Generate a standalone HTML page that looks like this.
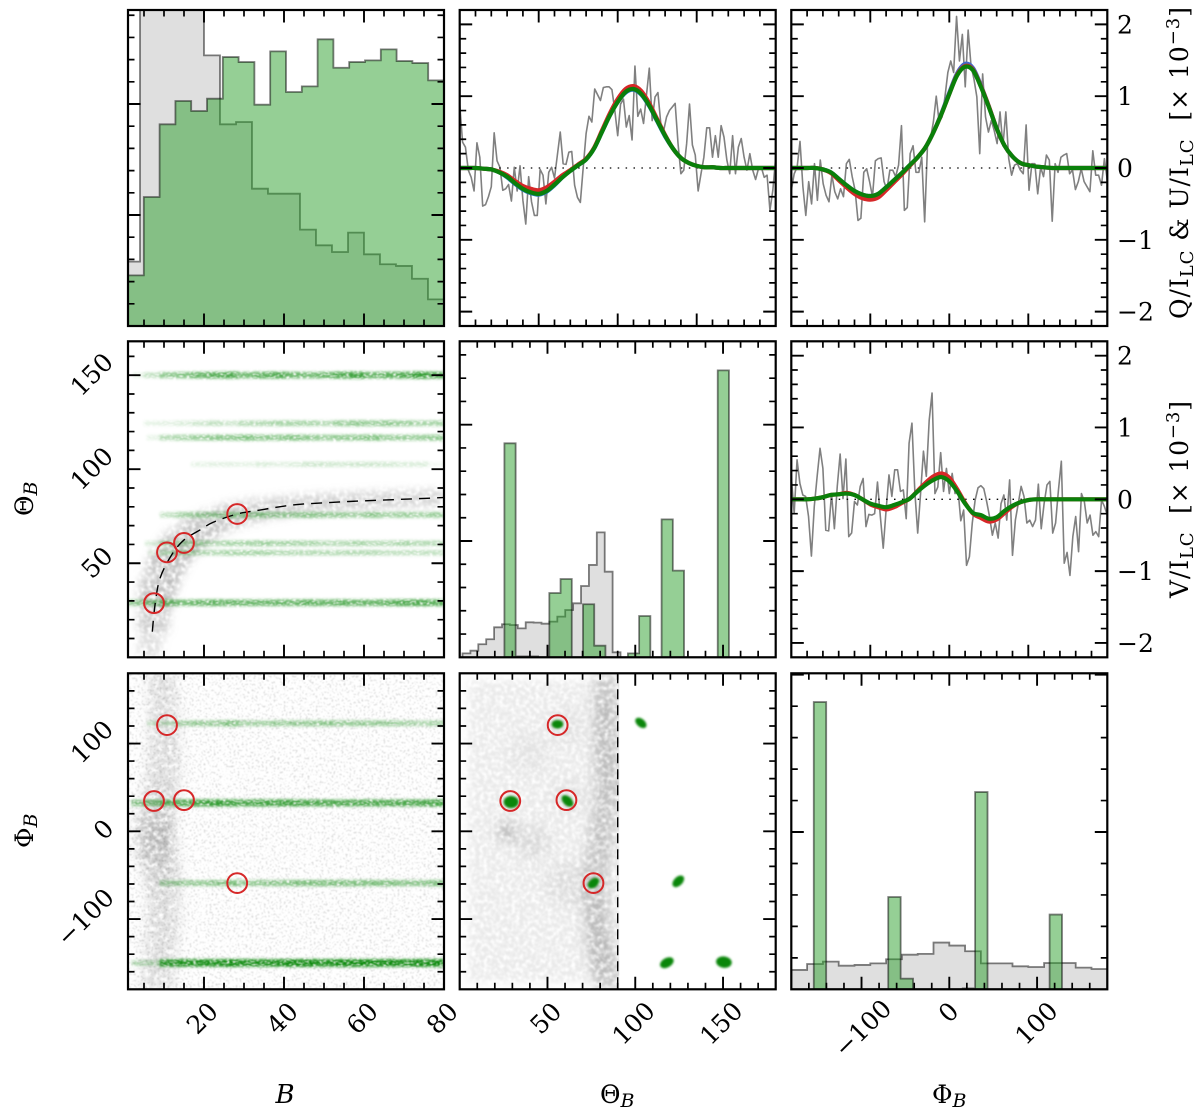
<!DOCTYPE html>
<html lang="en">
<head>
<meta charset="utf-8">
<title>Inversion corner plot</title>
<style>
html,body{margin:0;padding:0;background:#fff;}
svg{display:block;}
text{font-family:"DejaVu Serif","Liberation Serif",serif;fill:#000;}
</style>
</head>
<body>
<svg id="chart" xmlns="http://www.w3.org/2000/svg" width="1200" height="1112" viewBox="0 0 1200 1112">
<defs>
  <clipPath id="c00"><rect x="128" y="10" width="316" height="316"/></clipPath>
  <clipPath id="c01"><rect x="459.7" y="10" width="316" height="316"/></clipPath>
  <clipPath id="c02"><rect x="791.3" y="10" width="316" height="316"/></clipPath>
  <clipPath id="c10"><rect x="128" y="341.3" width="316" height="316"/></clipPath>
  <clipPath id="c11"><rect x="459.7" y="341.3" width="316" height="316"/></clipPath>
  <clipPath id="c12"><rect x="791.3" y="341.3" width="316" height="316"/></clipPath>
  <clipPath id="c20"><rect x="128" y="673.3" width="316" height="316"/></clipPath>
  <clipPath id="c21"><rect x="459.7" y="673.3" width="316" height="316"/></clipPath>
  <clipPath id="c21half"><rect x="459.7" y="673.3" width="159.5" height="316"/></clipPath>
  <clipPath id="c22"><rect x="791.3" y="673.3" width="316" height="316"/></clipPath>
  <filter id="mottle" filterUnits="userSpaceOnUse" x="0" y="0" width="1200" height="1112" color-interpolation-filters="sRGB">
    <feGaussianBlur in="SourceGraphic" stdDeviation="4.5" result="b"/>
    <feTurbulence type="fractalNoise" baseFrequency="0.25" numOctaves="2" seed="3" result="n"/>
    <feColorMatrix in="n" type="matrix" values="0 0 0 0 0 0 0 0 0 0 0 0 0 0 0 2.8 0 0 0 -0.7" result="m"/>
    <feComposite in="b" in2="m" operator="in"/>
    <feGaussianBlur stdDeviation="0.8"/>
  </filter>
  <filter id="mottleWide" filterUnits="userSpaceOnUse" x="0" y="0" width="1200" height="1112" color-interpolation-filters="sRGB">
    <feGaussianBlur in="SourceGraphic" stdDeviation="6" result="b"/>
    <feTurbulence type="fractalNoise" baseFrequency="0.22" numOctaves="2" seed="11" result="n"/>
    <feColorMatrix in="n" type="matrix" values="0 0 0 0 0 0 0 0 0 0 0 0 0 0 0 2.8 0 0 0 -0.7" result="m"/>
    <feComposite in="b" in2="m" operator="in"/>
    <feGaussianBlur stdDeviation="0.8"/>
  </filter>
  <filter id="speck" filterUnits="userSpaceOnUse" x="0" y="0" width="1200" height="1112" color-interpolation-filters="sRGB">
    <feTurbulence type="fractalNoise" baseFrequency="0.5" numOctaves="2" seed="8" result="n"/>
    <feColorMatrix in="n" type="matrix" values="0 0 0 0 0 0 0 0 0 0 0 0 0 0 0 9 0 0 0 -5.2" result="m"/>
    <feComposite in="SourceGraphic" in2="m" operator="in"/>
    <feGaussianBlur stdDeviation="0.6"/>
  </filter>
  <filter id="streak" filterUnits="userSpaceOnUse" x="0" y="0" width="1200" height="1112" color-interpolation-filters="sRGB">
    <feGaussianBlur in="SourceGraphic" stdDeviation="1.3" result="b"/>
    <feTurbulence type="fractalNoise" baseFrequency="0.3 0.7" numOctaves="2" seed="5" result="n"/>
    <feColorMatrix in="n" type="matrix" values="0 0 0 0 0 0 0 0 0 0 0 0 0 0 0 3.4 0 0 0 -0.8" result="m"/>
    <feComposite in="b" in2="m" operator="in"/>
    <feGaussianBlur stdDeviation="0.5"/>
  </filter>
  <filter id="soft" filterUnits="userSpaceOnUse" x="0" y="0" width="1200" height="1112" color-interpolation-filters="sRGB">
    <feGaussianBlur stdDeviation="1.1"/>
  </filter>
</defs>

<g id="plots"></g>
<g id="frames"></g>
<g id="labels"></g>

<g>
  <text transform="translate(1188,319) rotate(-90)" font-size="25" textLength="312" xml:space="preserve">Q/I<tspan font-size="18" dy="5">LC</tspan><tspan dy="-5"> &amp; U/I</tspan><tspan font-size="18" dy="5">LC</tspan><tspan dy="-5">  [× 10</tspan><tspan font-size="18" dy="-9">−3</tspan><tspan dy="9">]</tspan></text>
  <text transform="translate(1188,598) rotate(-90)" font-size="25" textLength="197" xml:space="preserve">V/I<tspan font-size="18" dy="5">LC</tspan><tspan dy="-5">  [× 10</tspan><tspan font-size="18" dy="-9">−3</tspan><tspan dy="9">]</tspan></text>
  <text transform="translate(33,516) rotate(-90)" font-size="25">Θ<tspan font-size="19" font-style="italic" dy="4">B</tspan></text>
  <text transform="translate(33,848) rotate(-90)" font-size="25">Φ<tspan font-size="19" font-style="italic" dy="4">B</tspan></text>
  <text x="285" y="1103" font-size="26" font-style="italic" text-anchor="middle">B</text>
  <text x="600" y="1103" font-size="25">Θ<tspan font-size="19" font-style="italic" dy="4">B</tspan></text>
  <text x="932" y="1103" font-size="25">Φ<tspan font-size="19" font-style="italic" dy="4">B</tspan></text>
</g>
</svg>

<script>
// ---------- histogram data ----------
const bGrayStart = 0;
const bGrayWidth = 4;
const bGrayCounts = [580,3600,3300,3000,2900,2438,1817,1838,1237,1192,1192,868,727,667,841,646,556,541,426,240];
const bGreenStart = 1;
const bGreenWidth = 3.95;
const bGreenCounts = [456,1162,1817,2027,1937,2048,2423,2378,1994,2474,2108,2159,2583,2327,2378,2393,2492,2387,2369,2213];

const thetaGrayStart = 1.6;
const thetaGrayWidth = 4.5;
const thetaGrayCounts = [34,57,112,155,258,284,278,249,301,298,289,307,350,407,464,613,794,1074,736,43];
const thetaGreenStart = 25.47;
const thetaGreenWidth = 6.395;
const thetaGreenCounts = [1840,8,8,0,553,673,0,456,100,0,0,34,355,0,1186,745,0,0,0,2467];

const phiGrayStart = -180;
const phiGrayWidth = 18;
const phiGrayCounts = [123,161,176,150,155,165,191,220,225,297,278,242,165,165,146,142,167,167,138,129];
const phiGreenStart = -154.4;
const phiGreenWidth = 14.14;
const phiGreenCounts = [1826,0,0,0,0,0,587,68,0,0,0,0,6,1254,0,0,0,0,0,475];

// ---------- Stokes profile data ----------
const qObserved = [.89,.36,.29,-.03,-.13,-.32,.35,.15,-.53,-.51,-.40,-.26,.49,.10,.01,-.31,-.29,-.23,-.46,.01,-.32,.03,-.45,-.78,-.12,-.47,-.66,-.66,-.02,-.10,-.50,-.06,.01,-.14,.18,.50,.06,.05,.22,.23,-.24,-.41,-.48,.01,.48,.72,.64,1.10,1.02,.94,1.12,1.13,1.13,1.09,.80,.45,.89,.96,.57,.73,.39,1.42,.72,.82,.62,1.01,1.39,.66,.99,1.05,.62,.52,.71,.80,.85,.90,.34,-.08,-.03,.34,.89,.32,.18,-.32,-.08,.15,.56,.56,.15,.45,.15,.59,.43,.11,-.08,.45,-.08,.29,.41,.15,-.03,.20,-.03,-.16,-.01,.01,-.13,-.10,-.59,-.31,.15];
const uObserved = [-.31,-.08,.01,.37,-.26,-.66,-.19,-.50,.06,-.45,.11,-.22,-.38,-.47,-.10,-.33,-.43,-.29,-.40,.06,.12,-.12,-.31,-.73,-.70,-.06,-.01,-.19,-.40,.10,.13,.14,-.19,-.30,-.03,-.03,-.12,.04,.59,-.59,-.55,.20,.31,-.06,-.06,.15,-.75,.34,.41,.64,1.0,.64,.71,.99,1.33,1.49,1.33,2.11,1.49,1.86,1.13,1.92,1.42,1.24,.99,.20,1.31,.71,.50,.66,.52,.34,.78,.31,.78,.13,-.10,.04,.06,-.03,-.08,.60,-.31,.06,.06,-.36,.01,-.12,.18,.11,-.74,.06,-.06,.15,.18,.20,-.08,-.03,-.30,-.19,-.01,-.19,-.26,-.33,.24,-.10,-.10,-.24,.13,-.17];
const vObserved = [.32,-.20,.55,.22,.06,.04,-.24,-.79,-.10,.32,.71,.43,-.43,-.44,.08,-.41,.18,.63,.01,.56,-.52,-.47,-.03,-.08,.18,.29,-.38,-.21,-.22,-.20,.24,-.24,-.68,-.15,.34,.04,.41,.41,.11,.13,-.27,.78,1.06,.11,-.47,.08,.67,.32,1.10,1.48,.08,.17,.65,.11,.43,.08,.36,.08,.15,-.30,-.15,-.92,-.80,-.33,-.01,.16,.19,.15,-.03,-.24,-.50,-.33,-.54,-.06,.06,-.29,.27,-.78,-.29,-.06,.18,.04,-.33,-.29,-.38,-.29,.21,-.41,-.06,.20,.25,-.47,-.33,.13,.53,-.89,-.74,-1.06,-.52,-.24,-.73,.08,-.03,-.33,-.22,-.50,-.45,-.52,-.01,-.10,-.22];

const qFitGreen = [0,0,0,-.01,-.02,-.06,-.12,-.21,-.29,-.34,-.36,-.32,-.23,-.13,-.04,.04,.12,.27,.50,.73,.92,1.06,1.10,1.03,.87,.66,.45,.27,.14,.07,.03,.01,.01,0,0,0,0,0,0,0,0];
const qFitRed = [0,0,0,-.01,-.02,-.05,-.10,-.18,-.25,-.29,-.31,-.27,-.19,-.10,-.03,.05,.13,.28,.52,.76,.96,1.10,1.14,1.07,.90,.68,.46,.27,.14,.07,.03,.01,.01,0,0,0,0,0,0,0,0];
const qFitBlue = [0,0,0,-.01,-.02,-.06,-.13,-.22,-.30,-.35,-.37,-.33,-.24,-.13,-.04,.04,.12,.27,.50,.73,.92,1.05,1.09,1.02,.86,.65,.44,.27,.14,.07,.03,.01,.01,0,0,0,0,0,0,0,0];
const uFitGreen = [0,0,0,0,-.02,-.06,-.15,-.24,-.32,-.37,-.39,-.36,-.27,-.17,-.07,.04,.15,.29,.50,.75,1.03,1.29,1.41,1.36,1.13,.85,.55,.31,.16,.07,.04,.02,.01,0,0,0,0,0,0,0,0];
const uFitRed = [0,0,0,0,-.02,-.07,-.17,-.27,-.36,-.42,-.44,-.41,-.31,-.20,-.09,.03,.15,.29,.50,.75,1.03,1.30,1.42,1.37,1.14,.86,.55,.31,.16,.07,.04,.02,.01,0,0,0,0,0,0,0,0];
const uFitBlue = [0,0,0,0,-.02,-.06,-.15,-.24,-.32,-.37,-.39,-.36,-.27,-.17,-.07,.04,.15,.29,.50,.76,1.05,1.32,1.45,1.39,1.15,.86,.55,.31,.16,.07,.04,.02,.01,0,0,0,0,0,0,0,0];
const vFitGreen = [0,0,0,.01,.03,.06,.07,.08,.06,0,-.06,-.09,-.11,-.08,-.04,.01,.11,.20,.27,.31,.25,.11,-.06,-.19,-.22,-.27,-.25,-.16,-.09,-.04,-.01,0,0,0,0,0,0,0,0,0,0];
const vFitRed = [0,0,0,.01,.03,.06,.07,.09,.06,0,-.07,-.11,-.14,-.11,-.05,.01,.12,.23,.32,.36,.30,.14,-.05,-.20,-.26,-.31,-.28,-.19,-.10,-.04,-.01,0,0,0,0,0,0,0,0,0,0];

// ---------- scatter data ----------
const solutionB = [7.5,10.75,15,28.3];
const solutionTheta = [28.8,55.8,60.8,76.2];
const solutionPhi = [34.5,121,35.5,-59];

const curveB = [7.08,7.75,9,11.9,15,19,22.3,28.3,34,42.3,50.7,59,67.3,79.8];
const curveTheta = [13.6,27.8,42,54.4,62.4,67.7,71.8,76.2,78.3,81,82.2,83.1,83.8,84.9];

const cloudB = [6,7.08,7.75,9,11.9,15,19,22.3,28.3,34,42.3,50.7,59,67.3,79.8];
const cloudTheta = [0,13.6,27.8,42,54.4,62.4,67.7,71.8,76.2,78.3,81,82.2,83.1,83.8,84.9];
const cloudDensity = [.13,.24,.34,.34,.34,.34,.32,.32,.30,.28,.28,.28,.28,.26,.24];
const cloudSpread = [20,28,36,38,38,36,32,28,26,22,19,18,18,18,16];

const thetaBandValues = [150,124.4,116.8,102.6,75.7,60.6,55.6,29];
const thetaBandStartB = [2.3,4.7,5.7,16.5,9,5.25,6,1];
const thetaBandDensity = [
  [.10,.25,.45,.50,.60,.65,.70,.55,.65,.70,.60,.55,.60,.70,.75,.60,.65,.70,.80,.70],
  [0,.10,.12,.15,.20,.25,.20,.30,.30,.35,.35,.35,.30,.40,.45,.40,.45,.40,.35,.35],
  [0,.10,.30,.35,.40,.45,.45,.50,.45,.45,.50,.45,.40,.45,.45,.50,.40,.40,.40,.45],
  [0,0,0,.02,.10,.12,.12,.10,.15,.12,.15,.20,.20,.18,.20,.20,.18,.15,.15,.05],
  [0,0,.25,.35,.40,.40,.45,.40,.45,.40,.40,.45,.40,.40,.35,.45,.35,.40,.35,.40],
  [0,.15,.30,.35,.35,.30,.35,.35,.40,.35,.35,.35,.30,.30,.35,.30,.30,.35,.30,.30],
  [0,.10,.30,.35,.30,.30,.35,.35,.35,.30,.30,.30,.30,.30,.30,.30,.25,.25,.25,.25],
  [.45,.50,.60,.55,.60,.65,.60,.60,.60,.60,.60,.65,.60,.65,.60,.60,.65,.70,.70,.65]
];
const phiBandValues = [123,32.3,-59,-150];
const phiBandStartB = [5.8,1.9,8.5,2];
const phiBandDensity = [
  [0,.20,.25,.35,.40,.40,.50,.35,.35,.40,.40,.40,.45,.40,.40,.40,.40,.35,.30,.35],
  [.50,.55,.65,.70,.75,.80,.75,.70,.75,.75,.75,.70,.70,.70,.70,.70,.70,.70,.70,.75],
  [0,0,.35,.40,.40,.45,.50,.40,.45,.45,.50,.50,.50,.50,.50,.50,.50,.45,.45,.50],
  [.30,.30,.85,.90,.90,.90,.95,.90,.90,.90,.95,.95,.90,.95,.95,.95,.95,.90,.95,.95]
];

const stripPhi = [180,140,100,60,20,-5,-30,-60,-100,-140,-180];
const stripB = [9,10,10,10,8,7.5,8.5,10,10,9,8];
const stripDensity = [.20,.20,.20,.20,.28,.48,.34,.24,.20,.20,.20];
const stripSpread = [7,7,8,8,9,9,9,8,8,8,8];

const arcPhi = [180,150,110,70,35,0,-30,-60,-100,-130,-155,-180];
const arcTheta = [84,83,83,84,84,81,79,77,78,79,83,84];
const arcDensity = [.26,.30,.34,.32,.30,.30,.28,.30,.34,.36,.38,.26];
const arcSpread = [13,13,13,13,13,13,13,13,13,13,13,13];

const patchTheta = [27,42,62,60,40,62];
const patchPhi = [0,-12,-60,120,90,40];
const patchDensity = [.32,.12,.10,.08,.06,.08];
const patchSpread = [6,10,13,10,12,10];

const blobTheta = [55.7,29.3,61.4,76.2,103.2,124.5,118,150.5];
const blobPhi = [122,33.4,34.5,-59,123.5,-57,-149.7,-149];
const blobThetaSpread = [3.3,4.3,4,3.7,3.7,4,4.2,4.5];
const blobPhiSpread = [5,7,5,5,4.6,5,5.4,6.5];
const blobTilt = [0,0,45,-40,40,-45,-30,8];

// ---------- tick arrays ----------
const bMajor = [20,40,60,80];
const bLabels = ['20','40','60','80'];
const thetaMajorX = [50,100,150];
const thetaLabels = ['50','100','150'];
const phiMajorX = [-100,0,100];
const phiLabels = ['−100','0','100'];
const stokesMajor = [-2,-1,0,1,2];
const stokesLabels = ['−2','−1','0','1','2'];
const countMajor = [1000,2000];
const lambdaMajor = [-100,0,100];

// ---------- scales ----------
const NS = 'http://www.w3.org/2000/svg';
const linear = (d0,d1,r0,r1) => v => r0 + (v-d0)*(r1-r0)/(d1-d0);
const xB = linear(1,80,128,444);
const xTheta = linear(0,180,459.7,775.7);
const xPhi = linear(-180,180,791.3,1107.3);
const xLam2 = linear(-200,200,459.7,775.7);
const xLam3 = linear(-200,200,791.3,1107.3);
const yStokes1 = linear(-2.2,2.2,326,10);
const yStokes2 = linear(-2.2,2.2,657.3,341.3);
const yTheta = linear(0,168,657.3,341.3);
const yPhi = linear(-180,180,989.3,673.3);
const yCount1 = linear(0,2847,326,10);
const yCount2 = linear(0,2717,657.3,341.3);
const yCount3 = linear(0,2009,989.3,673.3);

const plots = document.getElementById('plots');
const frames = document.getElementById('frames');
const labels = document.getElementById('labels');

function mk(tag,parent,attrs){
  const el = document.createElementNS(NS,tag);
  for(const k in attrs){ el.setAttribute(k,attrs[k]); }
  parent.appendChild(el);
  return el;
}
function seq(a,b,s){
  const out=[];
  for(let i=0;a+i*s<=b+1e-9;i++){ out.push(a+i*s); }
  return out;
}
function smoothPath(pts){
  let d = 'M'+pts[0][0].toFixed(2)+' '+pts[0][1].toFixed(2);
  for(let i=0;i<pts.length-1;i++){
    const p0 = pts[Math.max(0,i-1)], p1 = pts[i], p2 = pts[i+1], p3 = pts[Math.min(pts.length-1,i+2)];
    const c1x = p1[0]+(p2[0]-p0[0])/6, c1y = p1[1]+(p2[1]-p0[1])/6;
    const c2x = p2[0]-(p3[0]-p1[0])/6, c2y = p2[1]-(p3[1]-p1[1])/6;
    d += 'C'+c1x.toFixed(2)+' '+c1y.toFixed(2)+' '+c2x.toFixed(2)+' '+c2y.toFixed(2)+' '+p2[0].toFixed(2)+' '+p2[1].toFixed(2);
  }
  return d;
}

function panel(clip,name){
  const g = mk('g',plots,{'clip-path':'url(#'+clip+')'});
  
  
  return g;
}

function hist(parent,start,width,values,xs,ys,fill,alpha,name){
  let d = 'M'+xs(start)+' '+ys(0);
  values.forEach((v,i)=>{
    d += 'L'+xs(start+i*width)+' '+ys(v)+'L'+xs(start+(i+1)*width)+' '+ys(v);
  });
  d += 'L'+xs(start+values.length*width)+' '+ys(0)+'Z';
  const el = mk('path',parent,{d:d,fill:fill,'fill-opacity':alpha,stroke:'#000','stroke-opacity':.5,'stroke-width':1.8,'stroke-linejoin':'miter'});
  
  
}

function polyline(parent,xv,yv,xs,ys,stroke,width,name){
  const d = yv.map((v,i)=>(i?'L':'M')+xs(xv(i)).toFixed(2)+' '+ys(v).toFixed(2)).join('');
  const el = mk('path',parent,{d:d,fill:'none',stroke:stroke,'stroke-width':width,'stroke-linejoin':'round'});
  
  
}

function smoothCurve(parent,xv,yv,xs,ys,stroke,width,name){
  const pts = yv.map((v,i)=>[xs(xv(i)),ys(v)]);
  const el = mk('path',parent,{d:smoothPath(pts),fill:'none',stroke:stroke,'stroke-width':width,'stroke-linejoin':'round'});
  
  
}

function stokesPanel(clip,name,xs,ys,observed,fits){
  const g = panel(clip,name);
  const n = observed.length;
  polyline(g,i=>-200+400*i/(n-1),observed,xs,ys,'#808080',1.6,'observed-profile');
  const zero = mk('line',g,{x1:xs(-200),x2:xs(200),y1:ys(0),y2:ys(0),stroke:'#000','stroke-width':1.3,'stroke-dasharray':'1.5 6.4'});
  
  
  fits.forEach(f=>{
    smoothCurve(g,i=>-200+10*i,f.values,xs,ys,f.color,f.width,f.name);
  });
}

function bands(parent,values,starts,density,ys){
  values.forEach((val,i)=>{
    density[i].forEach((dens,j)=>{
      if(dens<=0){ return; }
      const a = Math.max(1+j*3.95,starts[i]);
      const b = 1+(j+1)*3.95;
      const seg = mk('line',parent,{x1:xB(a),x2:xB(b),y1:ys(val),y2:ys(val),stroke:'#0c8a0c','stroke-opacity':Math.min(1,dens*1.05),'stroke-width':4.5+3.5*dens});
      
      
    });
  });
}

function cloud(parent,xv,yv,dens,spread,xs,ys,name){
  for(let i=0;i<xv.length-1;i++){
    const seg = mk('line',parent,{x1:xs(xv[i]),y1:ys(yv[i]),x2:xs(xv[i+1]),y2:ys(yv[i+1]),stroke:'#555','stroke-opacity':(dens[i]+dens[i+1])/2,'stroke-width':(spread[i]+spread[i+1])/2,'stroke-linecap':'butt'});
    
    
  }
}

function circles(parent,xv,yv,xs,ys,name){
  xv.forEach((v,i)=>{
    const c = mk('circle',parent,{cx:xs(v),cy:ys(yv[i]),r:9.9,fill:'none',stroke:'#d62728','stroke-width':2});
    
    
  });
}

function axisFrame(col,row,xs,xMajor,xMinor,ys,yMajor,yMinor,name){
  const x0=[128,459.7,791.3][col], y0=[10,341.3,673.3][row], w=316, h=316;
  const g = mk('g',frames,{});
  
  
  let maj='', min='';
  xMajor.forEach(v=>{ const x=xs(v); maj+='M'+x+' '+(y0+h)+'v-12.5M'+x+' '+y0+'v12.5'; });
  xMinor.forEach(v=>{ const x=xs(v); min+='M'+x+' '+(y0+h)+'v-6.5M'+x+' '+y0+'v6.5'; });
  yMajor.forEach(v=>{ const y=ys(v); maj+='M'+x0+' '+y+'h12.5M'+(x0+w)+' '+y+'h-12.5'; });
  yMinor.forEach(v=>{ const y=ys(v); min+='M'+x0+' '+y+'h6.5M'+(x0+w)+' '+y+'h-6.5'; });
  const p1 = mk('path',g,{d:maj,stroke:'#000','stroke-width':1.9,fill:'none'});
  
  
  const p2 = mk('path',g,{d:min,stroke:'#000','stroke-width':1.7,fill:'none'});
  
  
  const r = mk('rect',g,{x:x0,y:y0,width:w,height:h,fill:'none',stroke:'#000','stroke-width':2.2});
  
  
}

function rotLabel(text,cx,cy,name){
  const t = mk('text',labels,{x:0,y:0,'font-size':25,'text-anchor':'middle',transform:'translate('+cx+','+cy+') rotate(-45) translate(0,9)'});
  t.textContent = text;
  
  
}

// ---------- row 1 ----------
const p00 = panel('c00','b-histogram');
hist(p00,bGrayStart,bGrayWidth,bGrayCounts,xB,yCount1,'#808080',.25,'b-prior-histogram');
hist(p00,bGreenStart,bGreenWidth,bGreenCounts,xB,yCount1,'#2ca02c',.5,'b-posterior-histogram');

stokesPanel('c01','stokes-q-panel',xLam2,yStokes1,qObserved,[
  {values:qFitBlue,color:'#1f77b4',width:4.2,name:'q-fit-blue'},
  {values:qFitRed,color:'#d62728',width:4.2,name:'q-fit-red'},
  {values:qFitGreen,color:'#0a800a',width:4.2,name:'q-fit-green'}
]);
stokesPanel('c02','stokes-u-panel',xLam3,yStokes1,uObserved,[
  {values:uFitBlue,color:'#4169c8',width:4.2,name:'u-fit-blue'},
  {values:uFitRed,color:'#d62728',width:4.2,name:'u-fit-red'},
  {values:uFitGreen,color:'#0a800a',width:4.2,name:'u-fit-green'}
]);

// ---------- row 2 ----------
const p10 = panel('c10','b-theta-scatter');
const p10gray = mk('g',p10,{filter:'url(#mottle)'});


cloud(p10gray,cloudB,cloudTheta,cloudDensity,cloudSpread,xB,yTheta,'cloud-segment');
const p10green = mk('g',p10,{filter:'url(#streak)'});


bands(p10green,thetaBandValues,thetaBandStartB,thetaBandDensity,yTheta);
const dashed = mk('path',p10,{d:smoothPath(curveB.map((b,i)=>[xB(b),yTheta(curveTheta[i])])),fill:'none',stroke:'#000','stroke-width':1.4,'stroke-dasharray':'11 7'});


circles(p10,solutionB,solutionTheta,xB,yTheta,'solution-marker');

const p11 = panel('c11','theta-histogram');
hist(p11,thetaGrayStart,thetaGrayWidth,thetaGrayCounts,xTheta,yCount2,'#808080',.25,'theta-prior-histogram');
hist(p11,thetaGreenStart,thetaGreenWidth,thetaGreenCounts,xTheta,yCount2,'#2ca02c',.5,'theta-posterior-histogram');

stokesPanel('c12','stokes-v-panel',xLam3,yStokes2,vObserved,[
  {values:vFitRed,color:'#d62728',width:4.2,name:'v-fit-red'},
  {values:vFitGreen,color:'#0a800a',width:4.2,name:'v-fit-green'}
]);

// ---------- row 3 ----------
const p20 = panel('c20','b-phi-scatter');
const p20speck = mk('rect',p20,{x:128,y:673.3,width:316,height:316,fill:'#444','fill-opacity':.2,filter:'url(#speck)'});


const p20gray = mk('g',p20,{filter:'url(#mottleWide)'});


cloud(p20gray,stripB,stripPhi,stripDensity,stripSpread.map(s=>s*4),xB,yPhi,'cloud-segment');
const p20green = mk('g',p20,{filter:'url(#streak)'});


bands(p20green,phiBandValues,phiBandStartB,phiBandDensity,yPhi);
circles(p20,solutionB,solutionPhi,xB,yPhi,'solution-marker');

const p21 = panel('c21','theta-phi-scatter');
const p21half = mk('g',p21,{'clip-path':'url(#c21half)'});


const p21base = mk('rect',p21half,{x:468,y:680,width:160,height:302,fill:'#888','fill-opacity':.18,filter:'url(#mottle)'});


const p21gray = mk('g',p21half,{filter:'url(#mottleWide)'});


cloud(p21gray,arcTheta,arcPhi,arcDensity,arcSpread.map(s=>s*1.754*1.1),xTheta,yPhi,'cloud-segment');
patchTheta.forEach((t,i)=>{
  const e = mk('circle',p21gray,{cx:xTheta(t),cy:yPhi(patchPhi[i]),r:patchSpread[i]*1.75,fill:'#555','fill-opacity':patchDensity[i]});
  
  
});
const thetaLimit = mk('line',p21,{x1:xTheta(90),x2:xTheta(90),y1:673.3,y2:989.3,stroke:'#000','stroke-width':1.4,'stroke-dasharray':'10 6'});


const blobs = mk('g',p21,{filter:'url(#soft)'});


blobTheta.forEach((t,i)=>{
  const cx = xTheta(t), cy = yPhi(blobPhi[i]);
  const e = mk('ellipse',blobs,{cx:cx,cy:cy,rx:blobThetaSpread[i]*1.754,ry:blobPhiSpread[i]*.877,fill:'#0a860a',transform:'rotate('+blobTilt[i]+' '+cx+' '+cy+')'});
  
  
});
circles(p21,solutionTheta,solutionPhi,xTheta,yPhi,'solution-marker');

const p22 = panel('c22','phi-histogram');
hist(p22,phiGrayStart,phiGrayWidth,phiGrayCounts,xPhi,yCount3,'#808080',.25,'phi-prior-histogram');
hist(p22,phiGreenStart,phiGreenWidth,phiGreenCounts,xPhi,yCount3,'#2ca02c',.5,'phi-posterior-histogram');

// ---------- frames and ticks ----------
const bMinor = seq(5,75,5).filter(v=>v%20!==0);
const thetaXMinor = seq(10,170,10).filter(v=>v%50!==0);
const phiXMinor = seq(-160,160,20).filter(v=>v%100!==0);
const lamMinor = seq(-180,180,20).filter(v=>v%100!==0);
const stokesMinor = seq(-2,2,.2).filter(v=>Math.abs(v-Math.round(v))>.01);
const countMinor = seq(200,2800,200).filter(v=>v%1000!==0);
const countMinor2 = seq(200,2600,200).filter(v=>v%1000!==0);
const countMinor3 = seq(200,1800,200).filter(v=>v%1000!==0);
const thetaYMajor = [50,100,150];
const thetaYMinor = seq(10,160,10).filter(v=>v%50!==0);
const phiYMajor = [-100,0,100];
const phiYMinor = seq(-160,160,20).filter(v=>v%100!==0);

axisFrame(0,0,xB,bMajor,bMinor,yCount1,countMajor,countMinor,'axes-b-histogram');
axisFrame(1,0,xLam2,lambdaMajor,lamMinor,yStokes1,stokesMajor,stokesMinor,'axes-stokes-q');
axisFrame(2,0,xLam3,lambdaMajor,lamMinor,yStokes1,stokesMajor,stokesMinor,'axes-stokes-u');
axisFrame(0,1,xB,bMajor,bMinor,yTheta,thetaYMajor,thetaYMinor,'axes-b-theta');
axisFrame(1,1,xTheta,thetaMajorX,thetaXMinor,yCount2,countMajor,countMinor2,'axes-theta-histogram');
axisFrame(2,1,xLam3,lambdaMajor,lamMinor,yStokes2,stokesMajor,stokesMinor,'axes-stokes-v');
axisFrame(0,2,xB,bMajor,bMinor,yPhi,phiYMajor,phiYMinor,'axes-b-phi');
axisFrame(1,2,xTheta,thetaMajorX,thetaXMinor,yPhi,phiYMajor,phiYMinor,'axes-theta-phi');
axisFrame(2,2,xPhi,phiMajorX,phiXMinor,yCount3,countMajor,countMinor3,'axes-phi-histogram');

// ---------- tick labels ----------
bMajor.forEach((v,i)=>rotLabel(bLabels[i],xB(v)-2,1018,'b-x-tick-label'));
thetaMajorX.forEach((v,i)=>rotLabel(thetaLabels[i],xTheta(v)-2,i===0?1018:1023,'theta-x-tick-label'));
phiMajorX.forEach((v,i)=>rotLabel(phiLabels[i],xPhi(v)+(i===0?1:-1),[1028,1012,1023][i],'phi-x-tick-label'));
thetaYMajor.forEach((v,i)=>rotLabel(thetaLabels[i],i===0?96.7:91.5,yTheta(v)-1,'theta-y-tick-label'));
phiYMajor.forEach((v,i)=>rotLabel(phiLabels[i],[85,103.3,91.7][i],yPhi(v)-2,'phi-y-tick-label'));

[yStokes1,yStokes2].forEach((ys,r)=>{
  stokesMajor.forEach((v,i)=>{
    const t = mk('text',labels,{x:1117,y:ys(v)+9,'font-size':25});
    t.textContent = stokesLabels[i];
    
    
  });
});
</script>
</body>
</html>
